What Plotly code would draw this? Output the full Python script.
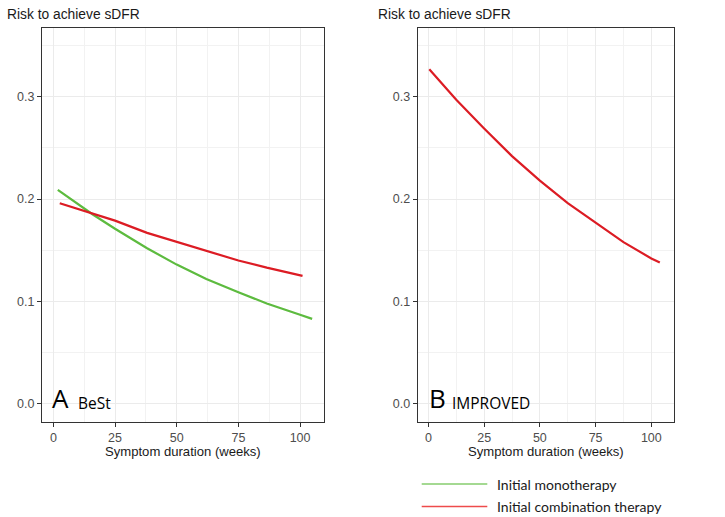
import plotly.graph_objects as go

# ---- data ----
best_weeks_mono = [1.8, 16, 25, 38, 50, 62, 75, 86.5, 100, 104.9]
best_risk_mono = [0.209, 0.185, 0.171, 0.152, 0.136, 0.122, 0.109, 0.098, 0.087, 0.083]
best_weeks_combo = [2.6, 16, 25, 38, 50, 62, 75, 86.5, 101]
best_risk_combo = [0.196, 0.186, 0.179, 0.167, 0.158, 0.149, 0.140, 0.133, 0.125]
imp_weeks_combo = [0.4, 12.5, 25, 37.5, 50, 62.5, 75, 87.5, 100, 103.8]
imp_risk_combo = [0.327, 0.297, 0.269, 0.242, 0.218, 0.196, 0.177, 0.158, 0.142, 0.138]

x_ticks = [0, 25, 50, 75, 100]
y_ticks = [0.0, 0.1, 0.2, 0.3]
y_ticklabels = ["0.0", "0.1", "0.2", "0.3"]
series_names = ["Initial monotherapy", "Initial combination therapy"]
panel_labels = [("A", "BeSt"), ("B", "IMPROVED")]

GREEN = "#5DBB3F"
RED = "#DC1C24"
W, H = 725, 517

fig = go.Figure()
fig.add_trace(go.Scatter(x=best_weeks_mono, y=best_risk_mono, mode="lines",
                         line=dict(color=GREEN, width=2.2), name=series_names[0],
                         xaxis="x", yaxis="y", showlegend=False))
fig.add_trace(go.Scatter(x=best_weeks_combo, y=best_risk_combo, mode="lines",
                         line=dict(color=RED, width=2.2), name=series_names[1],
                         xaxis="x", yaxis="y", showlegend=False))
fig.add_trace(go.Scatter(x=imp_weeks_combo, y=imp_risk_combo, mode="lines",
                         line=dict(color=RED, width=2.2), name=series_names[1],
                         xaxis="x2", yaxis="y2", showlegend=False))

left1, right1 = 42, 324
left2, right2 = 417.7, 674.3
top, bottom = 27.7, 421.7
ydom = [1 - bottom / H, 1 - top / H]

tickfont = dict(family="Liberation Sans, Arial, sans-serif", size=12.5, color="#4D4D4D")

def xax(dom, rng):
    return dict(domain=dom, range=rng, tickvals=x_ticks, ticks="outside", ticklen=4,
                tickcolor="#333333", tickwidth=1, showline=True, mirror=True,
                linecolor="#333333", linewidth=1.2, showgrid=True, gridcolor="#EBEBEB",
                gridwidth=1, zeroline=False, tickfont=tickfont,
                minor=dict(tickvals=[12.5, 37.5, 62.5, 87.5], showgrid=True,
                           gridcolor="#F2F2F2", gridwidth=1, ticks=""))

def yax(anchor):
    return dict(domain=ydom, range=[-0.0175, 0.3675], tickvals=y_ticks, ticktext=y_ticklabels,
                ticks="outside", ticklen=4, tickcolor="#333333", tickwidth=1,
                showline=True, mirror=True, linecolor="#333333", linewidth=1.2,
                showgrid=True, gridcolor="#EBEBEB", gridwidth=1, zeroline=False,
                tickfont=tickfont, anchor=anchor,
                minor=dict(tickvals=[0.05, 0.15, 0.25, 0.35], showgrid=True,
                           gridcolor="#F2F2F2", gridwidth=1, ticks=""))

fig.update_layout(
    width=W, height=H, margin=dict(l=0, r=0, t=0, b=0),
    paper_bgcolor="white", plot_bgcolor="white",
    xaxis=xax([left1 / W, right1 / W], [-4.6, 109.7]) | dict(anchor="y"),
    yaxis=yax("x"),
    xaxis2=xax([left2 / W, right2 / W], [-4.8, 110.3]) | dict(anchor="y2"),
    yaxis2=yax("x2"),
)

ann = []
titlefont = dict(family="Liberation Sans, Arial, sans-serif", size=13.8, color="#1A1A1A")
axfont = dict(family="Liberation Sans, Arial, sans-serif", size=13.1, color="#1A1A1A")
for lx, cx in [(5, (left1 + right1) / 2), (376, (left2 + right2) / 2)]:
    ann.append(dict(text="Risk to achieve sDFR", x=lx / W, y=1 - 15 / H, xref="paper", yref="paper",
                    xanchor="left", yanchor="middle", showarrow=False, font=titlefont))
    ann.append(dict(text="Symptom duration (weeks)", x=cx / W, y=1 - 451 / H, xref="paper",
                    yref="paper", xanchor="center", yanchor="middle", showarrow=False, font=axfont))

labfont_big = dict(family="Open Sans, Noto Sans, sans-serif", size=26, color="black")
labfont_small = dict(family="Open Sans, Noto Sans, sans-serif", size=15.5, color="black")
for (big, small), bx, sx in [(panel_labels[0], 50, 76), (panel_labels[1], 427, 450)]:
    ann.append(dict(text=big, x=bx / W, y=1 - 412 / H, xref="paper", yref="paper",
                    xanchor="left", yanchor="bottom", showarrow=False, font=labfont_big,
                    yshift=-6))
    ann.append(dict(text=small, x=sx / W, y=1 - 412 / H, xref="paper", yref="paper",
                    xanchor="left", yanchor="bottom", showarrow=False, font=labfont_small,
                    yshift=-4))

legfont = dict(family="Lato, Open Sans, sans-serif", size=14, color="#1A1A1A")
shapes = []
for name, col, ly in [(series_names[0], "#86CC6E", 484), (series_names[1], "#EE4B4B", 506.5)]:
    shapes.append(dict(type="line", xref="paper", yref="paper", x0=421.7 / W, x1=487.3 / W,
                       y0=1 - ly / H, y1=1 - ly / H, line=dict(color=col, width=1.3)))
    ann.append(dict(text=name, x=495 / W, y=1 - ly / H, xref="paper", yref="paper",
                    xanchor="left", yanchor="middle", showarrow=False, font=legfont))

fig.update_layout(annotations=ann, shapes=shapes)
fig.write_html("out.html", config={"displayModeBar": False},
               post_script="document.body.style.margin='0px';document.body.style.overflow='hidden';")
